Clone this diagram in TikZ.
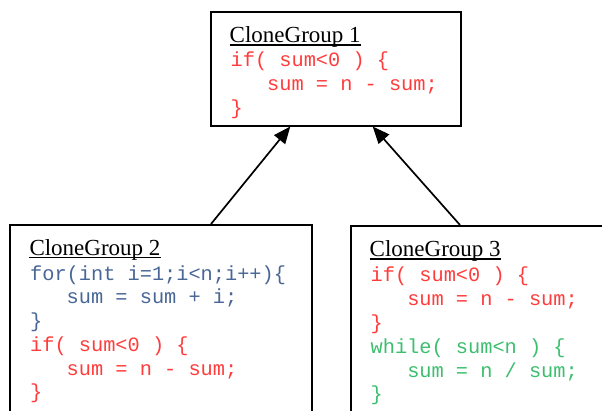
\documentclass[tikz,border=0pt]{standalone}
\usepackage{fontspec}
\setmainfont{Liberation Serif}
\newfontfamily\codefont{Liberation Mono}
\usetikzlibrary{arrows.meta}
\definecolor{cred}{RGB}{255,60,60}
\definecolor{cblue}{RGB}{72,102,150}
\definecolor{cgreen}{RGB}{60,190,110}
\newcommand{\ind}{\hphantom{000}}
\tikzset{
  box/.style={draw, line width=2pt, anchor=north west, inner sep=0pt, rectangle},
  ttl/.style={anchor=base west, inner sep=0pt, font=\fontsize{23}{23}\selectfont},
  code/.style={anchor=base west, inner sep=0pt, font=\codefont\fontsize{20.3}{24}\selectfont},
  ul/.style={line width=1.3pt},
  arr/.style={line width=1.7pt, -{Triangle[length=17pt,width=14pt]}}
}
\begin{document}
\begin{tikzpicture}[x=1pt,y=-1pt]
\path[use as bounding box] (0,0) rectangle (602,410);
\clip (0,0) rectangle (602,410);
% boxes
\node[box, minimum width=250pt, minimum height=114pt] (g1) at (209.5,10.5) {};
\node[box, minimum width=302.5pt, minimum height=216pt] (g2) at (8.5,224) {};
\node[box, minimum width=300pt, minimum height=216pt] (g3) at (349.5,225) {};
% group 1
\node[ttl] (t1) at (229.5,42.7) {CloneGroup 1};
\draw[ul] ([yshift=-2.4pt]t1.base west) -- ([yshift=-2.4pt]t1.base east);
\node[code, text=cred] (a1) at (230.5,66.7) {if( sum<0 ) \{};
\node[code, text=cred] (a2) at (230.5,90.6) {\ind sum = n - sum;};
\node[code, text=cred] (a3) at (230.5,114.2) {\}};
% group 2
\node[ttl] (t2) at (29.3,255) {CloneGroup 2};
\draw[ul] ([yshift=-2.4pt]t2.base west) -- ([yshift=-2.4pt]t2.base east);
\node[code, text=cblue] (b1) at (30,280) {for(int i=1;i<n;i++)\{};
\node[code, text=cblue] (b2) at (30,303.6) {\ind sum = sum + i;};
\node[code, text=cblue] (b3) at (30,327.2) {\}};
\node[code, text=cred] (b4) at (30,351.2) {if( sum<0 ) \{};
\node[code, text=cred] (b5) at (30,375) {\ind sum = n - sum;};
\node[code, text=cred] (b6) at (30,398.6) {\}};
% group 3
\node[ttl] (t3) at (369.5,256.5) {CloneGroup 3};
\draw[ul] ([yshift=-2.4pt]t3.base west) -- ([yshift=-2.4pt]t3.base east);
\node[code, text=cred] (c1) at (370.5,281.5) {if( sum<0 ) \{};
\node[code, text=cred] (c2) at (370.5,305.4) {\ind sum = n - sum;};
\node[code, text=cred] (c3) at (370.5,329.3) {\}};
\node[code, text=cgreen] (c4) at (370.5,353.2) {while( sum<n ) \{};
\node[code, text=cgreen] (c5) at (370.5,377.1) {\ind sum = n / sum;};
\node[code, text=cgreen] (c6) at (370.5,400.8) {\}};
% connectors
\draw[arr] ([xshift=50.25pt]g2.north) -- ([xshift=-45.2pt]g1.south);
\draw[arr] ([xshift=-40.5pt]g3.north) -- ([xshift=37.2pt]g1.south);
\end{tikzpicture}
\end{document}
